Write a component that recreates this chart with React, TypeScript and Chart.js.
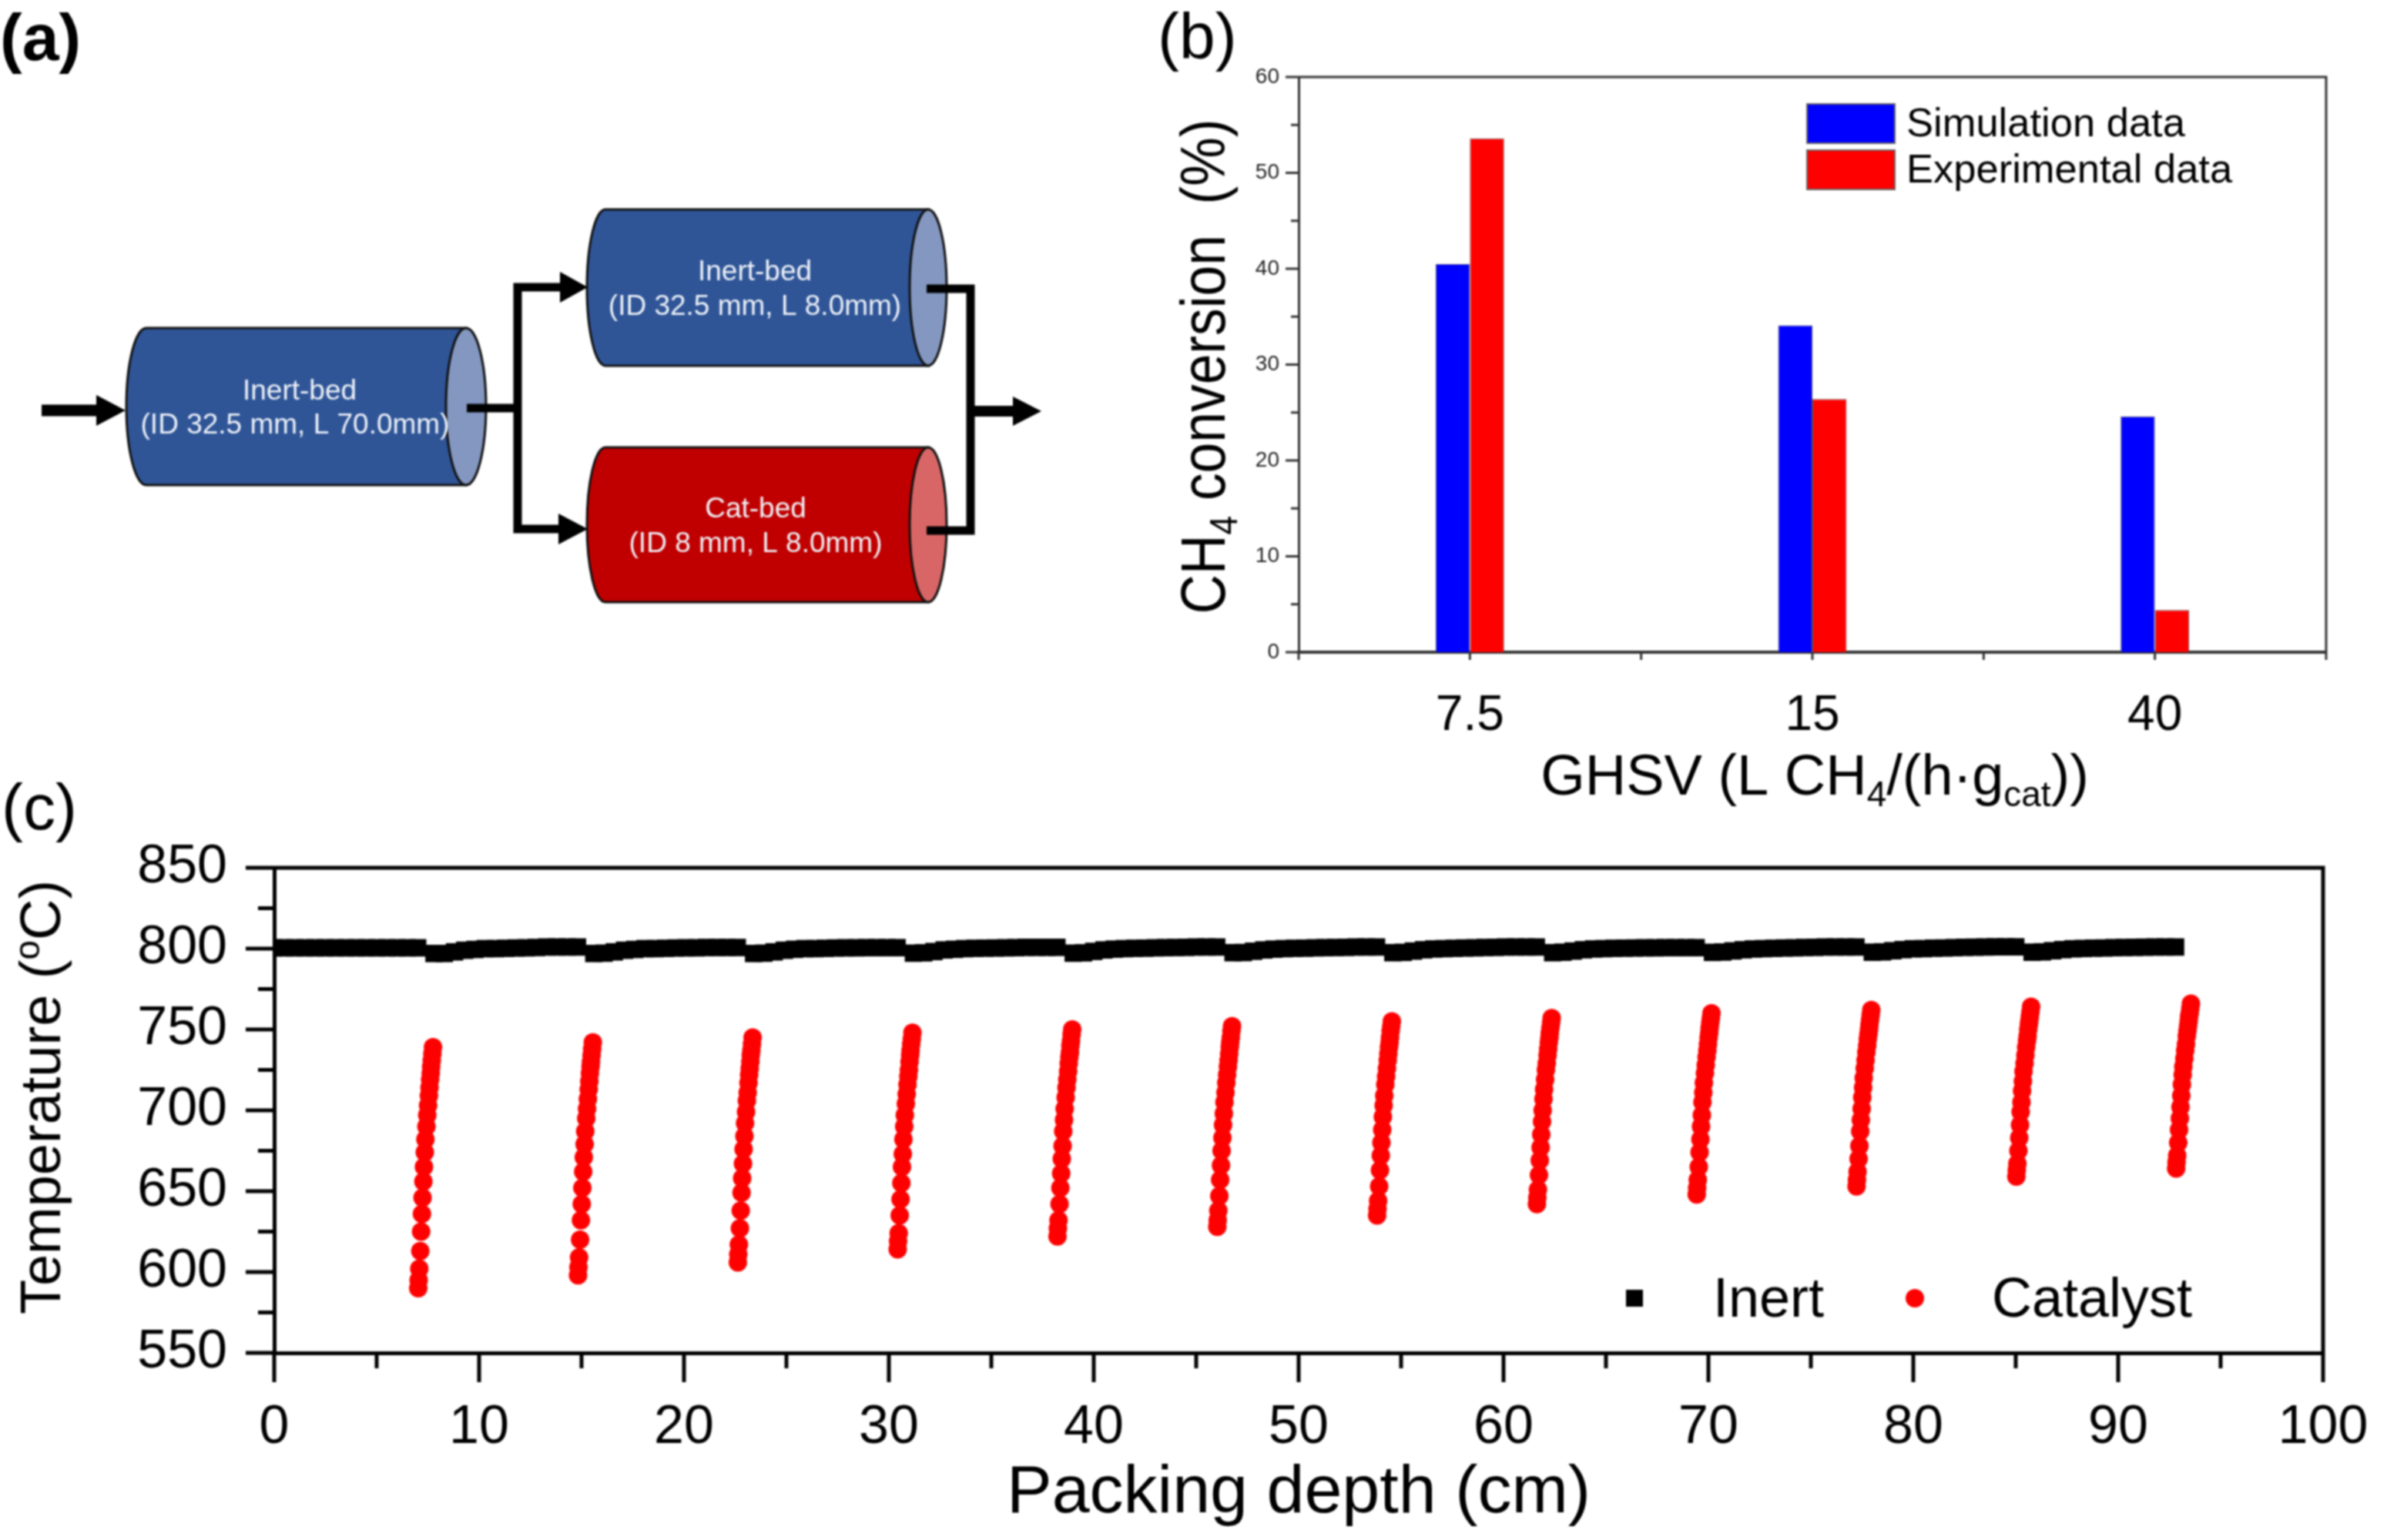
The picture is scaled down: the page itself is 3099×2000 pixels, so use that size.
import React, { useEffect, useRef } from "react";
import { Chart, registerables } from "chart.js";

Chart.register(...registerables);

const FONT = '"Liberation Sans", Arial, sans-serif';

// Panel (b)
const ghsvLabels = ["7.5", "15", "40"];
const simulationValues = [40.5, 34.1, 24.6];
const experimentalValues = [53.6, 26.4, 4.4];

// Panel (c)
const inertDepth = [
  0, 0.5, 1, 1.5, 2, 2.5, 3, 3.5, 4, 4.5, 5, 5.5, 6, 6.5, 7,
  7.8, 8.3, 8.8, 9.3, 9.8, 10.3, 10.8, 11.3, 11.8, 12.3, 12.8, 13.3, 13.8, 14.3, 14.8,
  15.6, 16.1, 16.6, 17.1, 17.6, 18.1, 18.6, 19.1, 19.6, 20.1, 20.6, 21.1, 21.6, 22.1, 22.6,
  23.4, 23.9, 24.4, 24.9, 25.4, 25.9, 26.4, 26.9, 27.4, 27.9, 28.4, 28.9, 29.4, 29.9, 30.4,
  31.2, 31.7, 32.2, 32.7, 33.2, 33.7, 34.2, 34.7, 35.2, 35.7, 36.2, 36.7, 37.2, 37.7, 38.2,
  39, 39.5, 40, 40.5, 41, 41.5, 42, 42.5, 43, 43.5, 44, 44.5, 45, 45.5, 46,
  46.8, 47.3, 47.8, 48.3, 48.8, 49.3, 49.8, 50.3, 50.8, 51.3, 51.8, 52.3, 52.8, 53.3, 53.8,
  54.6, 55.1, 55.6, 56.1, 56.6, 57.1, 57.6, 58.1, 58.6, 59.1, 59.6, 60.1, 60.6, 61.1, 61.6,
  62.4, 62.9, 63.4, 63.9, 64.4, 64.9, 65.4, 65.9, 66.4, 66.9, 67.4, 67.9, 68.4, 68.9, 69.4,
  70.2, 70.7, 71.2, 71.7, 72.2, 72.7, 73.2, 73.7, 74.2, 74.7, 75.2, 75.7, 76.2, 76.7, 77.2,
  78, 78.5, 79, 79.5, 80, 80.5, 81, 81.5, 82, 82.5, 83, 83.5, 84, 84.5, 85,
  85.8, 86.3, 86.8, 87.3, 87.8, 88.3, 88.8, 89.3, 89.8, 90.3, 90.8, 91.3, 91.8, 92.3, 92.8,
];
const inertTemp = [
  800.5, 800.5, 800.5, 800.5, 800.5, 800.5, 800.5, 800.5, 800.5, 800.5, 800.5, 800.5, 800.5, 800.5, 800.5,
  797, 797, 798, 799, 799.5, 800, 800, 800.2, 800.4, 800.5, 800.7, 801, 801, 801, 801,
  797, 797.2, 798, 799, 799.5, 800, 800, 800.2, 800.4, 800.5, 800.5, 800.7, 800.7, 800.7, 800.7,
  797, 797.2, 798, 799, 799.6, 800, 800, 800.2, 800.4, 800.5, 800.5, 800.6, 800.6, 800.6, 800.6,
  797.2, 797.4, 798.2, 799.2, 799.6, 800, 800.2, 800.3, 800.4, 800.5, 800.6, 800.8, 800.8, 800.8, 800.8,
  797.2, 797.4, 798.3, 799.2, 799.7, 800, 800.2, 800.3, 800.5, 800.6, 800.7, 800.8, 801, 801, 801,
  797.5, 797.6, 798.4, 799.2, 799.7, 800, 800.2, 800.3, 800.5, 800.6, 800.7, 800.8, 801, 801, 801,
  797.5, 797.7, 798.5, 799.3, 799.8, 800, 800.2, 800.4, 800.5, 800.7, 800.8, 801, 801, 801, 801,
  797.5, 797.8, 798.5, 799.3, 799.8, 800, 800.2, 800.3, 800.4, 800.5, 800.5, 800.6, 800.6, 800.6, 800.6,
  797.7, 797.9, 798.6, 799.3, 799.8, 800, 800.2, 800.4, 800.5, 800.7, 800.8, 801, 801, 801, 801,
  797.8, 798, 798.7, 799.4, 799.9, 800, 800.3, 800.4, 800.6, 800.8, 800.9, 801, 801.1, 801.1, 801.1,
  797.8, 798, 798.7, 799.4, 799.9, 800.1, 800.3, 800.4, 800.6, 800.7, 800.8, 800.9, 801, 801, 801,
];
const catalystDepth = [
  7.03, 7.05, 7.08, 7.13, 7.17, 7.21, 7.24, 7.28, 7.31, 7.35, 7.38, 7.43, 7.47, 7.51, 7.55, 7.58, 7.61, 7.64, 7.66, 7.69, 7.72, 7.75,
  14.83, 14.85, 14.88, 14.93, 14.97, 15.01, 15.04, 15.08, 15.11, 15.15, 15.18, 15.23, 15.27, 15.31, 15.35, 15.38, 15.41, 15.44, 15.46, 15.49, 15.52, 15.55,
  22.63, 22.65, 22.68, 22.73, 22.77, 22.81, 22.84, 22.88, 22.91, 22.95, 22.98, 23.03, 23.07, 23.11, 23.15, 23.18, 23.21, 23.24, 23.26, 23.29, 23.32, 23.35,
  30.43, 30.45, 30.48, 30.53, 30.57, 30.61, 30.64, 30.68, 30.71, 30.75, 30.78, 30.83, 30.87, 30.91, 30.95, 30.98, 31.01, 31.04, 31.06, 31.09, 31.12, 31.15,
  38.23, 38.25, 38.28, 38.33, 38.37, 38.41, 38.44, 38.48, 38.51, 38.55, 38.58, 38.63, 38.67, 38.71, 38.75, 38.78, 38.81, 38.84, 38.86, 38.89, 38.92, 38.95,
  46.03, 46.05, 46.08, 46.13, 46.17, 46.21, 46.24, 46.28, 46.31, 46.35, 46.38, 46.43, 46.47, 46.51, 46.55, 46.58, 46.61, 46.64, 46.66, 46.69, 46.72, 46.75,
  53.83, 53.85, 53.88, 53.93, 53.97, 54.01, 54.04, 54.08, 54.11, 54.15, 54.18, 54.23, 54.27, 54.31, 54.35, 54.38, 54.41, 54.44, 54.46, 54.49, 54.52, 54.55,
  61.63, 61.65, 61.68, 61.73, 61.77, 61.81, 61.84, 61.88, 61.91, 61.95, 61.98, 62.03, 62.07, 62.11, 62.15, 62.18, 62.21, 62.24, 62.26, 62.29, 62.32, 62.35,
  69.43, 69.45, 69.48, 69.53, 69.57, 69.61, 69.64, 69.68, 69.71, 69.75, 69.78, 69.83, 69.87, 69.91, 69.95, 69.98, 70.01, 70.04, 70.06, 70.09, 70.12, 70.15,
  77.23, 77.25, 77.28, 77.33, 77.37, 77.41, 77.44, 77.48, 77.51, 77.55, 77.58, 77.63, 77.67, 77.71, 77.75, 77.78, 77.81, 77.84, 77.86, 77.89, 77.92, 77.95,
  85.03, 85.05, 85.08, 85.13, 85.17, 85.21, 85.24, 85.28, 85.31, 85.35, 85.38, 85.43, 85.47, 85.51, 85.55, 85.58, 85.61, 85.64, 85.66, 85.69, 85.72, 85.75,
  92.83, 92.85, 92.88, 92.93, 92.97, 93.01, 93.04, 93.08, 93.11, 93.15, 93.18, 93.23, 93.27, 93.31, 93.35, 93.38, 93.41, 93.44, 93.46, 93.49, 93.52, 93.55,
];
const catalystTemp = [
  590, 595, 602, 613, 625, 636, 646, 656, 665, 674, 682, 690, 697, 703, 709, 714, 719, 723, 727, 731, 735, 739,
  598, 603, 609, 620, 632, 642, 652, 662, 671, 679, 687, 695, 701, 707, 713, 718, 723, 727, 730, 734, 738, 742,
  606, 611, 617, 627, 638, 649, 658, 667, 676, 684, 692, 699, 706, 711, 717, 722, 726, 730, 734, 737, 741, 745,
  614, 619, 624, 635, 645, 655, 665, 673, 682, 690, 697, 704, 710, 716, 721, 725, 730, 734, 737, 741, 744, 748,
  622, 627, 632, 642, 652, 661, 670, 678, 687, 694, 701, 708, 714, 719, 724, 729, 733, 736, 740, 743, 747, 750,
  628, 632, 638, 647, 657, 666, 675, 683, 691, 698, 705, 711, 717, 722, 727, 731, 735, 739, 742, 745, 749, 752,
  635, 639, 644, 653, 663, 672, 680, 688, 696, 703, 709, 716, 721, 726, 731, 735, 739, 742, 745, 749, 752, 755,
  642, 646, 651, 660, 669, 677, 685, 693, 700, 707, 713, 719, 725, 729, 734, 738, 742, 745, 748, 751, 754, 757,
  648, 652, 657, 665, 674, 682, 690, 697, 705, 711, 717, 723, 728, 733, 737, 741, 745, 748, 751, 754, 757, 760,
  653, 657, 662, 670, 678, 687, 694, 701, 708, 714, 720, 726, 731, 736, 740, 744, 747, 750, 753, 756, 759, 762,
  659, 663, 667, 675, 683, 691, 699, 705, 712, 718, 724, 729, 734, 739, 743, 746, 750, 753, 755, 758, 761, 764,
  664, 668, 672, 680, 688, 695, 702, 709, 716, 722, 727, 732, 737, 741, 746, 749, 752, 755, 758, 760, 763, 766,
];

// Panel (a)
const bedNames = ["Inert-bed", "Inert-bed", "Cat-bed"];
const bedDetails = ["(ID 32.5 mm, L 70.0mm)", "(ID 32.5 mm, L 8.0mm)", "(ID 8 mm, L 8.0mm)"];

const zip = (xs: number[], ys: number[]) => xs.map((x, i) => ({ x, y: ys[i] }));

type Run = { t: string; k?: "sub" | "sup" };

function drawRuns(
  ctx: CanvasRenderingContext2D,
  runs: Run[],
  x: number,
  y: number,
  size: number,
  opts: { rotate?: boolean; stretch?: number } = {},
) {
  const stretch = opts.stretch ?? 1;
  const fontOf = (r: Run) => `${r.k ? size * 0.62 : size}px ${FONT}`;
  let total = 0;
  for (const r of runs) {
    ctx.font = fontOf(r);
    total += ctx.measureText(r.t).width;
  }
  ctx.save();
  ctx.translate(x, y);
  if (opts.rotate) ctx.rotate(-Math.PI / 2);
  ctx.scale(stretch, 1);
  ctx.textAlign = "left";
  ctx.textBaseline = "alphabetic";
  ctx.fillStyle = "#000";
  let cx = -total / 2;
  for (const r of runs) {
    ctx.font = fontOf(r);
    const dy = r.k === "sub" ? size * 0.2 : r.k === "sup" ? -size * 0.36 : 0;
    ctx.fillText(r.t, cx, dy);
    cx += ctx.measureText(r.t).width;
  }
  ctx.restore();
}

function fixAxis(size: number, vertical: boolean) {
  return (scale: any) => {
    if (vertical) scale.width = size;
    else scale.height = size;
    scale.paddingLeft = scale.paddingRight = scale.paddingTop = scale.paddingBottom = 0;
  };
}

function tickMarks(ctx: CanvasRenderingContext2D, chart: any, cfg: any) {
  const { x: xs, y: ys } = chart.scales;
  ctx.save();
  ctx.strokeStyle = cfg.color;
  ctx.lineWidth = cfg.width;
  ys.ticks.forEach((t: any, i: number) => {
    const p = ys.getPixelForTick(i);
    const len = t.value % cfg.yMajor === 0 ? cfg.yLong : cfg.yShort;
    ctx.beginPath();
    ctx.moveTo(xs.left, p);
    ctx.lineTo(xs.left - len, p);
    ctx.stroke();
  });
  ctx.restore();
}

function frame(ctx: CanvasRenderingContext2D, area: any, color: string, width: number) {
  ctx.save();
  ctx.strokeStyle = color;
  ctx.lineWidth = width;
  ctx.beginPath();
  ctx.moveTo(area.left, area.top);
  ctx.lineTo(area.right, area.top);
  ctx.lineTo(area.right, area.bottom);
  ctx.stroke();
  ctx.restore();
}

function bedShape(ctx: CanvasRenderingContext2D, b: any, body: string, cap: string) {
  const ry = (b.bottom - b.top) / 2;
  const cy = (b.bottom + b.top) / 2;
  ctx.lineWidth = 3;
  ctx.strokeStyle = "#111";
  ctx.fillStyle = body;
  ctx.beginPath();
  ctx.moveTo(b.right, b.top);
  ctx.lineTo(b.left, b.top);
  ctx.ellipse(b.left, cy, b.rx, ry, 0, -Math.PI / 2, -Math.PI * 1.5, true);
  ctx.lineTo(b.right, b.bottom);
  ctx.closePath();
  ctx.fill();
  ctx.stroke();
  ctx.fillStyle = cap;
  ctx.beginPath();
  ctx.ellipse(b.right, cy, b.rx, ry, 0, 0, Math.PI * 2);
  ctx.fill();
  ctx.stroke();
}

function poly(ctx: CanvasRenderingContext2D, pts: number[][], width: number) {
  ctx.strokeStyle = "#000";
  ctx.lineWidth = width;
  ctx.lineJoin = "miter";
  ctx.beginPath();
  pts.forEach((p, i) => (i ? ctx.lineTo(p[0], p[1]) : ctx.moveTo(p[0], p[1])));
  ctx.stroke();
}

function head(ctx: CanvasRenderingContext2D, base: number, tip: number, y: number, half: number) {
  ctx.fillStyle = "#000";
  ctx.beginPath();
  ctx.moveTo(base, y - half);
  ctx.lineTo(tip, y);
  ctx.lineTo(base, y + half);
  ctx.closePath();
  ctx.fill();
}

const diagramPlugin = {
  id: "diagram",
  afterDraw(chart: any) {
    const ctx: CanvasRenderingContext2D = chart.ctx;
    ctx.save();
    const beds = [
      { left: 190, right: 605, top: 426, bottom: 630, rx: 26, body: "#2f5597", cap: "#8497c0", cx1: 389, cx2: 383, y1: 509, y2: 553 },
      { left: 786, right: 1205, top: 272, bottom: 475, rx: 24, body: "#2f5597", cap: "#8497c0", cx1: 980, cx2: 980, y1: 354, y2: 399 },
      { left: 786, right: 1205, top: 581, bottom: 782, rx: 24, body: "#c00000", cap: "#d96666", cx1: 981, cx2: 981, y1: 662, y2: 707 },
    ];
    beds.forEach((b, i) => {
      bedShape(ctx, b, b.body, b.cap);
      ctx.fillStyle = "#eef2f8";
      ctx.textAlign = "center";
      ctx.textBaseline = "middle";
      ctx.font = `37px ${FONT}`;
      ctx.fillText(bedNames[i], b.cx1, b.y1);
      ctx.fillText(bedDetails[i], b.cx2, b.y2);
    });
    poly(ctx, [[54, 533], [128, 533]], 15);
    head(ctx, 125, 163, 533, 20);
    poly(ctx, [[606, 530], [672, 530]], 11);
    poly(ctx, [[730, 373], [672, 373], [672, 687], [730, 687]], 11);
    head(ctx, 727, 763, 373, 20);
    head(ctx, 725, 763, 687, 20);
    poly(ctx, [[1203, 375], [1260, 375], [1260, 689], [1203, 689]], 11);
    poly(ctx, [[1264, 534], [1318, 534]], 14);
    head(ctx, 1315, 1352, 534, 19);

    ctx.fillStyle = "#000";
    ctx.textAlign = "left";
    ctx.textBaseline = "alphabetic";
    ctx.font = `bold 86px ${FONT}`;
    ctx.fillText("(a)", 0, 78);
    ctx.font = `84px ${FONT}`;
    ctx.fillText("(b)", 1503, 76);
    ctx.fillText("(c)", 2, 1077);
    ctx.restore();
  },
};

const barExtras = {
  id: "barExtras",
  afterDraw(chart: any) {
    const ctx: CanvasRenderingContext2D = chart.ctx;
    const area = chart.chartArea;
    frame(ctx, area, "#333", 3);
    tickMarks(ctx, chart, { color: "#333", width: 3, yMajor: 10, yLong: 17, yShort: 10 });
    const xs = chart.scales.x;
    ctx.save();
    ctx.strokeStyle = "#333";
    ctx.lineWidth = 3;
    for (let v = -0.5; v <= 2.5; v += 0.5) {
      const p = xs.getPixelForValue(v);
      ctx.beginPath();
      ctx.moveTo(p, area.bottom);
      ctx.lineTo(p, area.bottom + 10);
      ctx.stroke();
    }
    chart.data.datasets.forEach((d: any, i: number) => {
      const top = i === 0 ? 135 : 195;
      ctx.fillStyle = d.backgroundColor;
      ctx.strokeStyle = "#666";
      ctx.lineWidth = 2;
      ctx.fillRect(2346, top, 114, 51);
      ctx.strokeRect(2346, top, 114, 51);
      ctx.fillStyle = "#000";
      ctx.textAlign = "left";
      ctx.textBaseline = "middle";
      ctx.font = `52.5px ${FONT}`;
      ctx.fillText(d.label, 2475, top + 28);
    });
    ctx.restore();
    drawRuns(ctx, [{ t: "CH" }, { t: "4", k: "sub" }, { t: " conversion  (%)" }], 1590, 476, 82, { rotate: true, stretch: 0.87 });
    drawRuns(
      ctx,
      [{ t: "GHSV (L CH" }, { t: "4", k: "sub" }, { t: "/(h·g" }, { t: "cat", k: "sub" }, { t: "))" }],
      2356,
      1032,
      74,
    );
  },
};

const scatterExtras = {
  id: "scatterExtras",
  afterDraw(chart: any) {
    const ctx: CanvasRenderingContext2D = chart.ctx;
    const area = chart.chartArea;
    frame(ctx, area, "#000", 5);
    tickMarks(ctx, chart, { color: "#000", width: 5, yMajor: 50, yLong: 37, yShort: 21 });
    const xs = chart.scales.x;
    ctx.save();
    ctx.strokeStyle = "#000";
    ctx.lineWidth = 5;
    xs.ticks.forEach((t: any, i: number) => {
      const p = xs.getPixelForTick(i);
      ctx.beginPath();
      ctx.moveTo(p, area.bottom);
      ctx.lineTo(p, area.bottom + (t.value % 10 === 0 ? 38 : 20));
      ctx.stroke();
    });
    ctx.fillStyle = "#000";
    ctx.fillRect(2111, 1675, 22, 22);
    ctx.fillStyle = "#ff0000";
    ctx.beginPath();
    ctx.arc(2486, 1686, 12, 0, Math.PI * 2);
    ctx.fill();
    ctx.fillStyle = "#000";
    ctx.textAlign = "left";
    ctx.textBaseline = "alphabetic";
    ctx.font = `72px ${FONT}`;
    ctx.fillText(chart.data.datasets[0].label, 2224, 1710);
    ctx.fillText(chart.data.datasets[1].label, 2586, 1710);
    ctx.restore();
    drawRuns(ctx, [{ t: "Temperature (" }, { t: "o", k: "sup" }, { t: "C)" }], 78, 1425, 74, { rotate: true });
  },
};

export default function App() {
  const aRef = useRef<HTMLCanvasElement>(null);
  const bRef = useRef<HTMLCanvasElement>(null);
  const cRef = useRef<HTMLCanvasElement>(null);

  useEffect(() => {
    const W = 3099;
    const H = 2000;
    const base = { responsive: false, animation: false as const, devicePixelRatio: 1 };

    const a = new Chart(aRef.current!, {
      type: "scatter",
      data: { datasets: [] },
      options: {
        ...base,
        plugins: { legend: { display: false }, tooltip: { enabled: false } },
        scales: { x: { display: false }, y: { display: false } },
      },
      plugins: [diagramPlugin],
    });

    const bL = 1686, bR = 3020, bT = 100, bB = 847;
    const bAxisW = 80, bAxisH = 130;
    const b = new Chart(bRef.current!, {
      type: "bar",
      data: {
        labels: ghsvLabels,
        datasets: [
          { label: "Simulation data", data: simulationValues, backgroundColor: "#0000ff", borderColor: "#555", borderWidth: 1 },
          { label: "Experimental data", data: experimentalValues, backgroundColor: "#ff0000", borderColor: "#555", borderWidth: 1 },
        ],
      },
      options: {
        ...base,
        layout: { padding: { left: bL - bAxisW, right: W - bR, top: bT, bottom: H - bB - bAxisH } },
        plugins: { legend: { display: false }, tooltip: { enabled: false } },
        datasets: { bar: { categoryPercentage: 0.2, barPercentage: 1 } },
        scales: {
          x: {
            afterFit: fixAxis(bAxisH, false),
            grid: { display: false, drawTicks: false },
            border: { display: true, color: "#333", width: 4 },
            ticks: { color: "#000", font: { family: FONT, size: 64 }, padding: 45, maxRotation: 0 },
          },
          y: {
            min: 0,
            max: 60,
            afterFit: fixAxis(bAxisW, true),
            grid: { display: false, drawTicks: false },
            border: { display: true, color: "#333", width: 3 },
            ticks: {
              stepSize: 5,
              autoSkip: false,
              color: "#222",
              padding: 25,
              font: { family: FONT, size: 28 },
              callback: (v: any) => (v % 10 === 0 ? String(v) : ""),
            },
          },
        },
      } as any,
      plugins: [barExtras],
    });

    const cL = 356, cR = 3016, cT = 1127, cB = 1757;
    const cAxisW = 200, cAxisH = 236;
    const c = new Chart(cRef.current!, {
      type: "scatter",
      data: {
        datasets: [
          {
            label: "Inert",
            data: zip(inertDepth, inertTemp),
            pointStyle: "rect",
            pointRadius: 16,
            backgroundColor: "#000",
            borderWidth: 0,
          },
          {
            label: "Catalyst",
            data: zip(catalystDepth, catalystTemp),
            pointStyle: "circle",
            pointRadius: 12,
            backgroundColor: "#ff0000",
            borderWidth: 0,
            clip: false,
          },
        ],
      },
      options: {
        ...base,
        layout: { padding: { left: cL - cAxisW, right: W - cR, top: cT, bottom: H - cB - cAxisH } },
        plugins: { legend: { display: false }, tooltip: { enabled: false } },
        scales: {
          x: {
            type: "linear",
            min: 0,
            max: 100,
            afterFit: fixAxis(cAxisH, false),
            title: { display: true, text: "Packing depth (cm)", color: "#000", font: { family: FONT, size: 88 }, padding: 0 },
            grid: { display: false, drawTicks: false },
            border: { display: true, color: "#000", width: 5 },
            ticks: {
              stepSize: 5,
              autoSkip: false,
              maxRotation: 0,
              color: "#000",
              padding: 56,
              font: { family: FONT, size: 70 },
              callback: (v: any) => (v % 10 === 0 ? String(v) : ""),
            },
          },
          y: {
            min: 550,
            max: 850,
            afterFit: fixAxis(cAxisW, true),
            grid: { display: false, drawTicks: false },
            border: { display: true, color: "#000", width: 5 },
            ticks: {
              stepSize: 25,
              autoSkip: false,
              color: "#000",
              padding: 61,
              font: { family: FONT, size: 70 },
              callback: (v: any) => (v % 50 === 0 ? String(v) : ""),
            },
          },
        },
      } as any,
      plugins: [scatterExtras],
    });

    return () => {
      a.destroy();
      b.destroy();
      c.destroy();
    };
  }, []);

  const style: React.CSSProperties = { position: "absolute", left: 0, top: 0, width: 3099, height: 2000 };
  return (
    <div style={{ position: "absolute", left: 0, top: 0, width: 3099, height: 2000, background: "#fff", overflow: "hidden", filter: "blur(0.8px)" }}>
      <canvas ref={aRef} width={3099} height={2000} style={style} />
      <canvas ref={bRef} width={3099} height={2000} style={style} />
      <canvas ref={cRef} width={3099} height={2000} style={style} />
    </div>
  );
}
